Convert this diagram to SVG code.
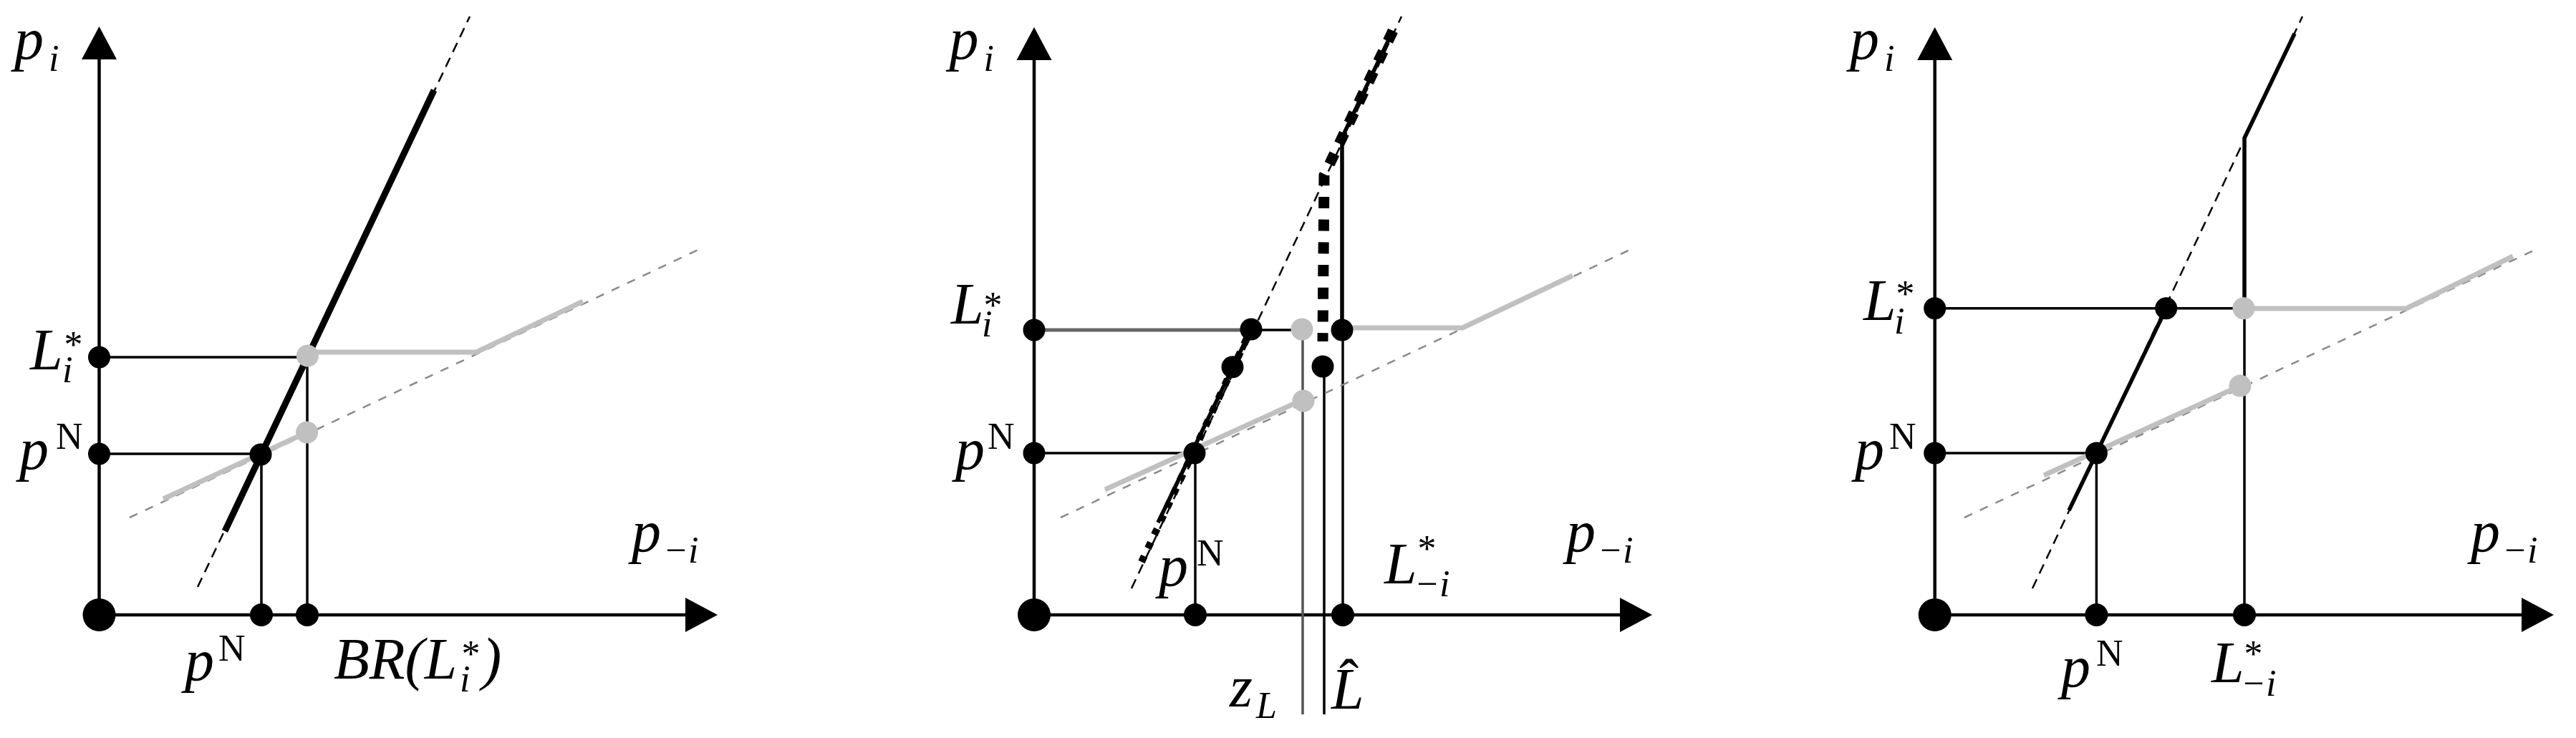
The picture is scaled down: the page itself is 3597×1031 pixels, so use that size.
<svg xmlns="http://www.w3.org/2000/svg" width="3597" height="1031" viewBox="0 0 3597 1031">
<style>
.ax{stroke:#000;stroke-width:4.5;fill:none}
.tl{stroke:#000;stroke-width:3.5;fill:none}
.md{stroke:#000;stroke-width:5.5;fill:none}
.bk{stroke:#000;stroke-width:9;fill:none}
.bd{stroke:#000;stroke-width:2.5;stroke-dasharray:14 9;fill:none}
.gd{stroke:#8a8a8a;stroke-width:2.5;stroke-dasharray:12 12;fill:none}
.gt{stroke:#c0c0c0;stroke-width:7;fill:none;stroke-linejoin:round}
.dg{stroke:#666;stroke-width:5;fill:none}
.sq{stroke:#000;stroke-width:15;stroke-dasharray:16 15.7;fill:none}
.dt{stroke:#000;stroke-width:10;stroke-dasharray:9 12;fill:none}
.d{fill:#000}
.g{fill:#c0c0c0}
.t{font-family:"Liberation Serif","Times New Roman",serif;font-style:italic;font-size:82px;fill:#000}
.s{font-size:52px}
.u{font-style:normal}
</style>
<rect width="3597" height="1031" fill="#fff"/>

<!-- ===== Panel 1 ===== -->
<g id="panel1">
  <g id="p1-axes">
    <line class="ax" x1="138.5" y1="859" x2="138.5" y2="80"/>
    <polygon class="d" points="138.5,37 114,83 163,83"/>
    <line class="ax" x1="138.5" y1="859" x2="960" y2="859"/>
    <polygon class="d" points="1002,859 957,835 957,883"/>
  </g>
  <g id="p1-connectors">
    <line class="tl" x1="138.5" y1="499" x2="429" y2="499"/>
    <line class="tl" x1="138.5" y1="634" x2="364" y2="634"/>
    <line class="tl" x1="365" y1="634" x2="365" y2="859"/>
    <line class="tl" x1="429" y1="497" x2="429" y2="859"/>
    <line class="gd" x1="181" y1="723" x2="979" y2="347"/>
    <polyline class="gt" points="228,697 428.6,604"/>
    <polyline class="gt" points="430,492 665,492 814,421"/>
    <line class="bd" x1="276" y1="820" x2="656" y2="23"/>
    <line class="bk" x1="314" y1="742" x2="606" y2="126"/>
  </g>
  <g id="p1-points">
    <circle class="d" cx="138.5" cy="859" r="23"/>
    <circle class="d" cx="365" cy="859" r="16"/>
    <circle class="d" cx="429" cy="859" r="16"/>
    <circle class="d" cx="138.5" cy="499" r="15.5"/>
    <circle class="d" cx="138.5" cy="634" r="15.5"/>
    <circle class="g" cx="429.4" cy="497" r="15.5"/>
    <circle class="g" cx="428.6" cy="604" r="15.5"/>
    <circle class="d" cx="364" cy="635" r="15.5"/>
  </g>
  <g id="p1-labels">
    <text class="t" x="20" y="82">p<tspan class="s" x="68" y="99">i</tspan></text>
    <text class="t" x="42" y="516">L<tspan class="s" x="87" y="534">i</tspan><tspan class="s" x="87" y="499">*</tspan></text>
    <text class="t" x="27" y="655">p<tspan class="s u" x="78" y="627">N</tspan></text>
    <text class="t" x="882" y="770">p<tspan class="s" x="926" y="786">−i</tspan></text>
    <text class="t" x="258" y="950">p<tspan class="s u" x="305" y="923">N</tspan></text>
    <text class="t" x="466" y="948"><tspan textLength="172" lengthAdjust="spacingAndGlyphs">BR(L</tspan><tspan class="s" x="642" y="966">i</tspan><tspan class="s" x="642" y="931">*</tspan><tspan x="673" y="948">)</tspan></text>
  </g>
</g>

<!-- ===== Panel 2 ===== -->
<g id="panel2">
  <g id="p2-axes">
    <line class="ax" x1="1444" y1="859" x2="1444" y2="80"/>
    <polygon class="d" points="1444,38 1419.5,84 1468.5,84"/>
    <line class="ax" x1="1444" y1="859" x2="2265" y2="859"/>
    <polygon class="d" points="2307,859 2262,835 2262,883"/>
  </g>
  <g id="p2-connectors">
    <line class="dg" x1="1444" y1="461" x2="1747" y2="461"/>
    <line class="tl" x1="1747" y1="461" x2="1818" y2="461"/>
    <line class="tl" x1="1444" y1="633" x2="1668" y2="633"/>
    <line class="tl" x1="1669" y1="633" x2="1669" y2="859"/>
    <line class="tl" x1="1875" y1="461" x2="1875" y2="859"/>
    <line stroke="#555" stroke-width="3.5" x1="1819" y1="462" x2="1819" y2="998"/>
    <line class="tl" x1="1849" y1="512" x2="1849" y2="998"/>
    <line class="gd" x1="1481" y1="723" x2="2280" y2="347"/>
    <polyline class="gt" points="1543,684 1818,559"/>
    <polyline class="gt" points="1875,458 2042,458 2196,385"/>
    <line class="bd" x1="1580" y1="822" x2="1957" y2="23"/>
    <line class="md" x1="1617" y1="730" x2="1747" y2="460"/>
    <line class="dt" x1="1594" y1="785" x2="1747" y2="460"/>
    <polyline class="md" stroke-width="7" points="1945,43 1874,192 1874,461"/>
    <polyline class="sq" points="1945,43 1849,245 1847,477"/>
  </g>
  <g id="p2-points">
    <circle class="d" cx="1444" cy="859" r="23"/>
    <circle class="d" cx="1669" cy="859" r="16"/>
    <circle class="d" cx="1875" cy="859" r="16"/>
    <circle class="d" cx="1444" cy="461" r="15.5"/>
    <circle class="d" cx="1444" cy="633" r="15.5"/>
    <circle class="d" cx="1747" cy="460" r="15.5"/>
    <circle class="d" cx="1721" cy="512.7" r="15.5"/>
    <circle class="d" cx="1668" cy="633" r="15.5"/>
    <circle class="g" cx="1818" cy="460" r="15.5"/>
    <circle class="g" cx="1820" cy="560" r="15.5"/>
    <circle class="d" cx="1874" cy="461" r="15.5"/>
    <circle class="d" cx="1847" cy="512" r="15.5"/>
  </g>
  <g id="p2-labels">
    <text class="t" x="1325.5" y="82">p<tspan class="s" x="1373.5" y="99">i</tspan></text>
    <text class="t" x="1328" y="452">L<tspan class="s" x="1371" y="470">i</tspan><tspan class="s" x="1371" y="444">*</tspan></text>
    <text class="t" x="1334" y="655">p<tspan class="s u" x="1379" y="627">N</tspan></text>
    <text class="t" x="2187" y="770">p<tspan class="s" x="2231" y="786">−i</tspan></text>
    <text class="t" x="1618" y="818">p<tspan class="s u" x="1671" y="790">N</tspan></text>
    <text class="t" x="1933" y="815">L<tspan class="s" x="1977" y="784">*</tspan><tspan class="s" x="1975" y="833">−i</tspan></text>
    <text class="t" x="1717" y="987">z<tspan class="s" x="1754" y="1003">L</tspan></text>
    <text class="t" x="1859" y="990">L<tspan x="1870" y="978" style="font-style:normal">ˆ</tspan></text>
  </g>
</g>

<!-- ===== Panel 3 ===== -->
<g id="panel3">
  <g id="p3-axes">
    <line class="ax" x1="2701.7" y1="859" x2="2701.7" y2="80"/>
    <polygon class="d" points="2701.7,38 2677.2,84 2726.2,84"/>
    <line class="ax" x1="2701.7" y1="859" x2="3524" y2="859"/>
    <polygon class="d" points="3566,859 3521,835 3521,883"/>
  </g>
  <g id="p3-connectors">
    <line class="tl" x1="2701.7" y1="430.7" x2="3133" y2="430.7"/>
    <line class="tl" x1="2701.7" y1="633" x2="2927" y2="633"/>
    <line class="tl" x1="2927.4" y1="633" x2="2927.4" y2="859"/>
    <line class="tl" x1="3134" y1="431" x2="3134" y2="859"/>
    <line class="gd" x1="2743" y1="723" x2="3541" y2="348.5"/>
    <polyline class="gt" points="2854,664 3128,539"/>
    <polyline class="gt" points="3133,431 3360,431 3509,358"/>
    <line class="bd" x1="2838" y1="822" x2="3215" y2="23"/>
    <line class="md" x1="2889" y1="713" x2="3024.7" y2="431"/>
    <polyline class="md" points="3204,47 3134,193 3134,431"/>
  </g>
  <g id="p3-points">
    <circle class="d" cx="2701.7" cy="859" r="23"/>
    <circle class="d" cx="2927.4" cy="859" r="16"/>
    <circle class="d" cx="3134" cy="859" r="16"/>
    <circle class="d" cx="2701.7" cy="430.7" r="15.5"/>
    <circle class="d" cx="2701.7" cy="633" r="15.5"/>
    <circle class="d" cx="3024.7" cy="430.7" r="15.5"/>
    <circle class="d" cx="2927.4" cy="633" r="15.5"/>
    <circle class="g" cx="3133" cy="430.7" r="15.5"/>
    <circle class="g" cx="3128" cy="539" r="15.5"/>
  </g>
  <g id="p3-labels">
    <text class="t" x="2583" y="82">p<tspan class="s" x="2631" y="99">i</tspan></text>
    <text class="t" x="2602" y="447">L<tspan class="s" x="2645" y="466">i</tspan><tspan class="s" x="2645" y="428">*</tspan></text>
    <text class="t" x="2590" y="655">p<tspan class="s u" x="2638" y="627">N</tspan></text>
    <text class="t" x="3450" y="770">p<tspan class="s" x="3494" y="786">−i</tspan></text>
    <text class="t" x="2878" y="959">p<tspan class="s u" x="2927" y="930">N</tspan></text>
    <text class="t" x="3088" y="953">L<tspan class="s" x="3131" y="931">*</tspan><tspan class="s" x="3129" y="972">−i</tspan></text>
  </g>
</g>
</svg>
